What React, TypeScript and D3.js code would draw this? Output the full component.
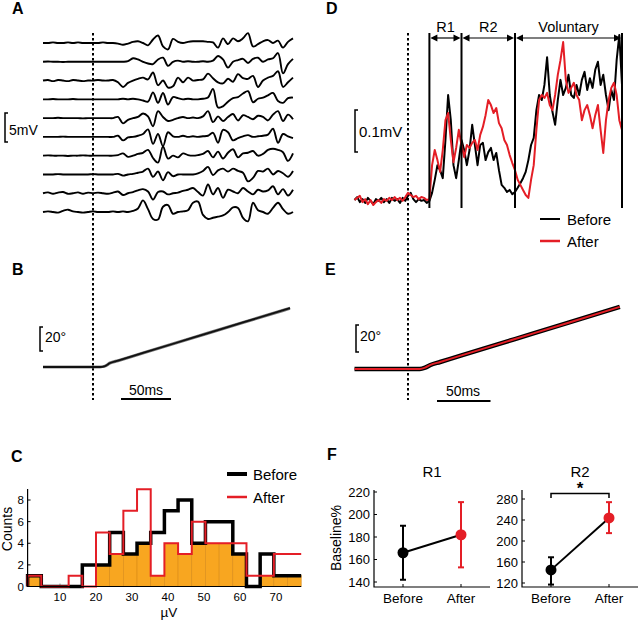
import * as d3 from "d3";

const FONT = "'Liberation Sans', Arial, Helvetica, sans-serif";
const RED = "#e41e26";
const ORANGE = "#f8a620";

// A: single-trial EMG, 5 ms samples from -50 to 200 ms (mV)
const trialTimes = d3.range(-50, 201, 5);
const trials: number[][] = [
  [0, 0, 0.1, 0, 0, 0.1, 0, 0.1, 0, 0, 0, 0, 0.1, 0, 0, -0.1, -0.3, -0.1, 0.2, 0.3, 0, -0.4, 0.6, 1.3, -0.6, -1.1, 0.7, 0.2, 0, 0.2, 0.3, 0.3, 0.3, 0.2, 0.1, -0.8, 0.8, -0.2, 0.8, 0.3, 0.8, 1.7, -0.6, -0.2, 0.3, 0.5, 0, 0.4, -0.8, 0.2, 0.8],
  [0, 0.05, 0, 0, -0.05, 0, 0, 0, 0, 0, 0, 0, 0, 0, 0, 0, 0, 0.1, 0.6, 0.4, 0, -0.3, -0.4, 0.4, 0.7, -0.7, 0, 0.2, 0, 0.1, 0, 0, 0.1, 0, 0.2, 1.0, 0.4, -1.0, 0, 0.3, 0.5, -0.2, 0.5, 0.7, 0, 0.4, 0.6, 1.5, -2.0, -0.4, 0.5],
  [0, 0.1, -0.1, 0.1, 0, -0.1, 0.1, 0, -0.1, 0, 0, 0.1, 0, 0, 0.1, -0.3, -1.1, -0.4, 0, 0.3, 0.5, 0.2, 1.4, -0.8, 0, -1.2, -1.0, 0.5, -0.3, 0.5, 0, 0.1, 0.2, 1.2, 0.4, -0.3, -0.5, 0.3, -0.2, 1.1, 0.4, 0.3, 0.8, -1.1, 0, 0.5, 0.8, 1.6, -1.1, -0.3, 0.5],
  [0, 0, 0.05, 0, 0, 0, 0.05, 0, 0, 0, 0, 0, 0, 0, 0, 0, 0.1, 0, 0.1, 0, -0.2, -0.4, 1.2, -0.6, 1.1, -0.9, 0.4, 0.2, 0, 0.1, 0, 0, 0.1, 0.3, 1.8, -1.4, -1.2, -0.4, 0.2, 0.4, 1.0, 1.4, -0.5, 0.1, 0.3, 0.7, 1.1, -0.3, -0.6, 0.2, 0.3],
  [0, 0, 0, 0.05, 0, 0, 0, 0, -0.05, 0, 0, 0, 0, 0, 0, 0.2, -0.9, -0.3, 0, 0.2, 0.8, 0.3, -1.4, 1.2, 0.2, -0.5, -0.3, 0, 0.2, 0, 0.1, 0, 0.3, 1.2, -0.7, 0.3, -0.5, 0.2, 0.7, -0.4, 0.5, 0.2, -0.2, 0.4, 0.2, -0.4, 0.6, 1.2, -0.5, 0.6, -0.2],
  [0, 0, 0, 0, 0.05, 0, 0, 0, 0, 0, 0, 0, 0, 0, 0, 0.2, -0.6, -0.1, 0, 0.2, 0.5, 1.3, -1.2, 0.5, -1.6, 0.8, 0.1, 0, 0.2, 0, 0.1, 0, 0.1, 0.2, 0.7, -1.0, 1.2, 0.8, -0.6, -0.2, 0.1, 0.3, 0, 0.1, 0.2, 0.4, 1.4, -1.0, 0.5, 0.1, -0.2],
  [0, 0.05, 0, 0, 0, -0.05, 0, 0, 0.05, 0, 0, 0, 0, 0, 0, 0.1, 0.4, -0.2, 0, 0.3, 0.5, 1.0, -0.4, -1.2, 1.6, -0.5, 0, -0.3, 0.4, 0.1, 0, 0.1, 0.3, 0.8, -0.3, 0.7, -0.5, 0.5, 1.1, -0.3, 0.4, 0.5, 0.8, 0, 0.3, 1.0, 1.2, 1.0, 0.6, -0.9, 0.4],
  [0, 0, 0, 0.05, 0, 0, 0, 0, 0, 0, 0.05, 0, 0, 0, 0, 0.1, -0.2, 0, 0.1, 0.3, 0.5, 1.0, -0.4, 0.5, -1.0, 0.4, -0.3, 0, 0, 0, 0, 0.2, 0.6, 1.3, -0.1, 0.7, 1.0, 0.5, 1.0, 0.6, 0.3, -1.2, -0.6, 0.6, 0.5, 1.0, 0, 0.6, 0.2, -0.4, 0.6],
  [0, 0.15, -0.1, 0.1, 0.2, -0.1, 0, 0.15, -0.1, 0.1, 0, 0.1, 0, -0.1, 0.1, 0.3, -0.3, 0, 0.2, 0.5, 0.7, 0.3, -1.1, 0.2, 0.3, -0.2, 0, 0.1, 0.4, 0.6, 0.9, 0.2, -0.4, 1.5, -0.2, 0.9, -0.8, 0.6, 0.3, 0, 0.9, 0.3, -0.2, 0.6, 0.3, 0.5, 1.2, -0.2, 0.7, -0.4, 0.6],
  [0, 0.1, 0, -0.1, 0.2, 0.4, 0.1, 0, -0.1, 0, 0.1, 0, 0, 0, 0.1, 0, 0.1, 0, 0.2, 0.6, 2.0, 0.5, -1.2, -1.3, 0.9, 1.2, -0.3, 0, 0.1, 0.3, 1.6, 1.8, -0.5, -1.2, -1.0, -0.8, -0.6, 0, 0.8, 0.7, -1.0, -1.6, 1.6, 0.3, 0, -0.3, 0.7, 1.6, 0.5, -0.3, 0],
];

// B: joint angle of the same trials (deg)
const angleTimesB = [-50, 7, 12, 17, 25, 50, 100, 150, 197];
const angleTrialsB = [
  [0, 0, 0.5, 2.9, 4.9, 11.3, 24.0, 36.7, 48.6],
  [0, 0, 1.0, 3.6, 5.6, 12.0, 24.7, 37.4, 49.3],
  [0, 0, 0.8, 3.3, 5.3, 11.7, 24.4, 37.1, 49.0],
];

// D: averaged rectified EMG (µV), 2.5 ms samples
const avgTimes = d3.range(-50, 200.1, 2.5);
const emgBefore = [
  0, 7, -5, 2, -7, 5, -2, -10, 2, -2,
  5, -5, 2, -7, 5, -2, 2, -7, 5, -2,
  10, 17, 2, -5, 2, -2, 0, -7, -2, 17,
  48, 83, 71, 52, 143, 250, 190, 83, 52, 95,
  143, 119, 83, 119, 179, 131, 83, 131, 136, 95,
  114, 124, 95, 112, 71, 36, 29, 19, 24, 14,
  19, 29, 40, 52, 67, 95, 131, 148, 214, 250,
  238, 274, 340, 250, 210, 179, 238, 286, 250, 267,
  298, 250, 243, 274, 250, 286, 305, 262, 290, 267,
  310, 329, 274, 298, 250, 214, 262, 238, 333, 393,
  274,
];
const emgAfter = [
  0, 5, 10, -5, 2, -10, 0, -12, -5, 0,
  -7, 2, -2, 5, 0, 7, 0, 5, -2, 7,
  17, 12, 7, 10, 2, 7, 5, 0, 2, 83,
  119, 95, 67, 119, 190, 207, 143, 90, 124, 167,
  131, 102, 131, 124, 136, 143, 119, 155, 174, 202,
  238, 226, 207, 219, 183, 171, 143, 131, 107, 88,
  71, 48, 36, 24, 12, 5, 48, 83, 167, 238,
  250, 243, 255, 226, 214, 250, 298, 333, 376, 286,
  255, 267, 279, 250, 238, 190, 214, 226, 202, 171,
  202, 226, 167, 112, 190, 238, 267, 279, 250, 190,
  167,
];
const windowEdges = [20, 50, 100, 200];
const windowNames = ["R1", "R2", "Voluntary"];

// E: averaged joint angle (deg)
const angleTimesE = [-50, 11, 16, 21, 30, 50, 100, 150, 198];
const angleBeforeE = [0, 0, 1.0, 3.0, 5.2, 10.1, 22.2, 34.3, 46.0];
const angleAfterE = [0, 0, 1.0, 3.0, 5.2, 10.1, 22.2, 34.3, 46.0];

// C: histogram of amplitudes
const binStarts = [1, 4.8, 8.6, 12.4, 16.2, 20, 23.8, 27.6, 31.4, 35.2, 39, 42.8, 46.6, 50.4, 54.2, 58, 61.8, 65.6, 69.4, 73.2];
const binWidth = 3.8;
const countsBefore = [1, 0, 0, 0, 2, 2, 5, 3, 4, 5, 7, 8, 4, 6, 6, 3, 0, 3, 1, 1];
const countsAfter = [1, 0, 0, 1, 0, 5, 3, 7, 9, 1, 4, 3, 6, 4, 4, 4, 1, 1, 3, 3];
const countTicks = [0, 2, 4, 6, 8];
const uvTicks = [10, 20, 30, 40, 50, 60, 70];

// F: % of baseline, mean with error
const conditions = ["Before", "After"];
const r1Mean = [166, 182];
const r1Low = [142, 153];
const r1High = [190, 211];
const r1Ticks = [140, 160, 180, 200, 220];
const r2Mean = [145, 244];
const r2Low = [117, 215];
const r2High = [169, 274];
const r2Ticks = [120, 160, 200, 240, 280];

function Bracket({ x, y1, y2 }: { x: number; y1: number; y2: number }) {
  return <path d={`M${x + 3},${y1}H${x}V${y2}H${x + 3}`} fill="none" stroke="#000" strokeWidth={1.5} />;
}

function PanelLabel({ x, y, t }: { x: number; y: number; t: string }) {
  return (
    <text x={x} y={y} fontSize={16} fontWeight="bold">
      {t}
    </text>
  );
}

function PairPlot(props: {
  left: number; right: number; domain: [number, number]; range: [number, number];
  ticks: number[]; mean: number[]; low: number[]; high: number[]; title: string; titleX: number; star?: boolean;
}) {
  const { left, right, ticks, mean, low, high } = props;
  const y = d3.scaleLinear(props.domain, props.range);
  const x = d3.scalePoint<string>().domain(conditions).range([left, right]).padding(0.5);
  const colors = ["#000", RED];
  return (
    <g>
      <text x={props.titleX} y={477} textAnchor="middle" fontSize={15}>{props.title}</text>
      <path d={`M${left},490V587H${right}`} fill="none" stroke="#000" strokeWidth={1.2} />
      {ticks.map((t) => (
        <g key={t}>
          <line x1={left} x2={left + 3} y1={y(t)} y2={y(t)} stroke="#000" />
          <text x={left - 4} y={y(t) + 4.5} textAnchor="end" fontSize={13}>{t}</text>
        </g>
      ))}
      {conditions.map((c) => (
        <g key={c}>
          <line x1={x(c)} x2={x(c)} y1={587} y2={584} stroke="#000" />
          <text x={x(c)} y={603} textAnchor="middle" fontSize={13.5}>{c}</text>
        </g>
      ))}
      <line x1={x("Before")} x2={x("After")} y1={y(mean[0])} y2={y(mean[1])} stroke="#000" strokeWidth={2} />
      {conditions.map((c, i) => (
        <g key={c} stroke={colors[i]} strokeWidth={2}>
          <line x1={x(c)} x2={x(c)} y1={y(low[i])} y2={y(high[i])} />
          <line x1={x(c)! - 3} x2={x(c)! + 3} y1={y(low[i])} y2={y(low[i])} />
          <line x1={x(c)! - 3} x2={x(c)! + 3} y1={y(high[i])} y2={y(high[i])} />
          <circle cx={x(c)} cy={y(mean[i])} r={5.5} fill={colors[i]} stroke="none" />
        </g>
      ))}
      {props.star && (
        <g>
          <path d={`M${x("Before")},498V493.5H${x("After")}V498`} fill="none" stroke="#000" strokeWidth={1.5} />
          <text x={(x("Before")! + x("After")!) / 2} y={494} textAnchor="middle" fontSize={17} fontWeight="bold">*</text>
        </g>
      )}
    </g>
  );
}

export default function App() {
  // A / B time scale
  const xA = d3.scaleLinear([-50, 200], [43, 293]);
  const baseA = d3.scaleLinear([0, 9], [43, 212]);
  const mvPx = 5.8;
  const yB = d3.scaleLinear([0, 20], [367, 343]);
  // D / E time scale
  const xD = d3.scaleLinear([-50, 200], [354.5, 622]);
  const yD = d3.scaleLinear([0, 100], [200, 158]);
  const yE = d3.scaleLinear([0, 20], [369, 342]);
  // C scales
  const xC = d3.scaleLinear([10, 70], [60, 276]);
  const yC = d3.scaleLinear([0, 8], [586.5, 500]);

  const lineD = (vals: number[]) =>
    d3.line<number>().x((_, i) => xD(avgTimes[i])).y((d) => yD(d))(vals) ?? "";
  const lineB = (vals: number[]) =>
    d3.line<number>().x((_, i) => xA(angleTimesB[i])).y((d) => yB(d)).curve(d3.curveMonotoneX)(vals) ?? "";
  const lineE = (vals: number[]) =>
    d3.line<number>().x((_, i) => xD(angleTimesE[i])).y((d) => yE(d)).curve(d3.curveMonotoneX)(vals) ?? "";

  const lastEdge = binStarts[binStarts.length - 1] + binWidth;
  const stepPath = (counts: number[]) => {
    const pts: [number, number][] = [[binStarts[0], 0]];
    binStarts.forEach((s, i) => pts.push([s, counts[i]]));
    pts.push([lastEdge, counts[counts.length - 1]]);
    return d3.line<[number, number]>().x((d) => xC(d[0])).y((d) => yC(d[1])).curve(d3.curveStepAfter)(pts) ?? "";
  };

  return (
    <svg width={640} height={621} style={{ position: "absolute", left: 0, top: 0, background: "#fff" }} fontFamily={FONT}>
      <rect width={640} height={621} fill="#fff" />

      {/* ---------- A ---------- */}
      <PanelLabel x={12} y={14} t="A" />
      {trials.map((tr, k) => (
        <path
          key={k}
          d={d3.line<number>().x((_, i) => xA(trialTimes[i])).y((d) => baseA(k) - d * mvPx).curve(d3.curveCatmullRom.alpha(0.5))(tr) ?? ""}
          fill="none"
          stroke="#000"
          strokeWidth={1.9}
          strokeLinejoin="round"
        />
      ))}
      <Bracket x={5} y1={113} y2={113 + 5 * mvPx} />
      <text x={9} y={135} fontSize={14}>5mV</text>
      <line x1={xA(0)} x2={xA(0)} y1={33} y2={400} stroke="#000" strokeWidth={2} strokeDasharray="2.5,2.5" />

      {/* ---------- B ---------- */}
      <PanelLabel x={12} y={275} t="B" />
      {angleTrialsB.map((a, k) => (
        <path key={k} d={lineB(a)} fill="none" stroke={k < 2 ? "#777" : "#111"} strokeWidth={k < 2 ? 2.4 : 1.8} />
      ))}
      <Bracket x={40} y1={327} y2={327 + (yB(0) - yB(20))} />
      <text x={45} y={342} fontSize={14}>20°</text>
      <line x1={121} x2={121 + xA(50) - xA(0)} y1={399} y2={399} stroke="#000" strokeWidth={2} />
      <text x={146} y={395} textAnchor="middle" fontSize={14}>50ms</text>

      {/* ---------- D ---------- */}
      <PanelLabel x={326} y={14} t="D" />
      <line x1={xD(0)} x2={xD(0)} y1={33} y2={400} stroke="#000" strokeWidth={2} strokeDasharray="2.5,2.5" />
      <path d={lineD(emgBefore)} fill="none" stroke="#000" strokeWidth={2} strokeLinejoin="round" />
      <path d={lineD(emgAfter)} fill="none" stroke={RED} strokeWidth={2} strokeLinejoin="round" />
      {windowEdges.map((t) => (
        <line key={t} x1={xD(t)} x2={xD(t)} y1={33} y2={208} stroke="#000" strokeWidth={2} />
      ))}
      {windowNames.map((name, i) => {
        const a = xD(windowEdges[i]) + 1;
        const b = xD(windowEdges[i + 1]) - 1;
        return (
          <g key={name}>
            <line x1={a + 4} x2={b - 4} y1={38} y2={38} stroke="#000" strokeWidth={1.2} />
            <path d={`M${a},38L${a + 7},34.5V41.5Z`} fill="#000" />
            <path d={`M${b},38L${b - 7},34.5V41.5Z`} fill="#000" />
            <text x={(a + b) / 2} y={32} textAnchor="middle" fontSize={14.5}>{name}</text>
          </g>
        );
      })}
      <Bracket x={355} y1={110} y2={110 + (yD(0) - yD(100))} />
      <text x={359} y={137} fontSize={15}>0.1mV</text>
      <line x1={540} x2={560} y1={219} y2={219} stroke="#000" strokeWidth={2} />
      <text x={567} y={224.5} fontSize={15}>Before</text>
      <line x1={540} x2={560} y1={241} y2={241} stroke={RED} strokeWidth={2.5} />
      <text x={567} y={246.5} fontSize={15}>After</text>

      {/* ---------- E ---------- */}
      <PanelLabel x={325} y={275} t="E" />
      <path d={lineE(angleBeforeE)} fill="none" stroke="#000" strokeWidth={4.5} />
      <path d={lineE(angleAfterE)} fill="none" stroke={RED} strokeWidth={2} />
      <Bracket x={356} y1={325} y2={325 + (yE(0) - yE(20))} />
      <text x={360} y={341} fontSize={14}>20°</text>
      <line x1={437} x2={437 + xD(50) - xD(0)} y1={401} y2={401} stroke="#000" strokeWidth={2} />
      <text x={463} y={396} textAnchor="middle" fontSize={14}>50ms</text>

      {/* ---------- C ---------- */}
      <PanelLabel x={11} y={462} t="C" />
      {uvTicks.map((t) => (
        <g key={t}>
          <line x1={xC(t)} x2={xC(t)} y1={yC(0)} y2={yC(0) - 3} stroke="#999" />
          <text x={xC(t)} y={601} textAnchor="middle" fontSize={11.5}>{t}</text>
        </g>
      ))}
      {binStarts.map((s, i) => {
        const h = Math.min(countsBefore[i], countsAfter[i]);
        if (h === 0) return null;
        return (
          <rect
            key={s}
            x={xC(s)}
            y={yC(h)}
            width={xC(s + binWidth) - xC(s)}
            height={yC(0) - yC(h)}
            fill={ORANGE}
            stroke="#d98b16"
            strokeWidth={0.6}
          />
        );
      })}
      <path d={stepPath(countsBefore)} fill="none" stroke="#000" strokeWidth={3.5} />
      <path d={stepPath(countsAfter)} fill="none" stroke={RED} strokeWidth={2} />
      <path d={`M${xC(binStarts[0])},489V${yC(0)}H${xC(lastEdge)}`} fill="none" stroke="#000" strokeWidth={1.2} />
      {countTicks.map((t) => (
        <g key={t}>
          <line x1={xC(binStarts[0])} x2={xC(binStarts[0]) + 3} y1={yC(t)} y2={yC(t)} stroke="#000" />
          <text x={24} y={yC(t) + 4} textAnchor="end" fontSize={11.5}>{t}</text>
        </g>
      ))}
      <text transform="translate(12,529) rotate(-90)" textAnchor="middle" fontSize={14}>Counts</text>
      <text x={169} y={617} textAnchor="middle" fontSize={13.5}>µV</text>
      <line x1={227} x2={247} y1={474} y2={474} stroke="#000" strokeWidth={4} />
      <text x={253} y={479.5} fontSize={15}>Before</text>
      <line x1={227} x2={247} y1={497} y2={497} stroke={RED} strokeWidth={2.5} />
      <text x={253} y={502.5} fontSize={15}>After</text>

      {/* ---------- F ---------- */}
      <PanelLabel x={327} y={460} t="F" />
      <text transform="translate(341,538) rotate(-90)" textAnchor="middle" fontSize={14}>Baseline%</text>
      <PairPlot left={374} right={490} domain={[140, 220]} range={[582, 492]} ticks={r1Ticks}
        mean={r1Mean} low={r1Low} high={r1High} title="R1" titleX={432} />
      <PairPlot left={522} right={638} domain={[120, 280]} range={[583, 499]} ticks={r2Ticks}
        mean={r2Mean} low={r2Low} high={r2High} title="R2" titleX={580} star />
    </svg>
  );
}
